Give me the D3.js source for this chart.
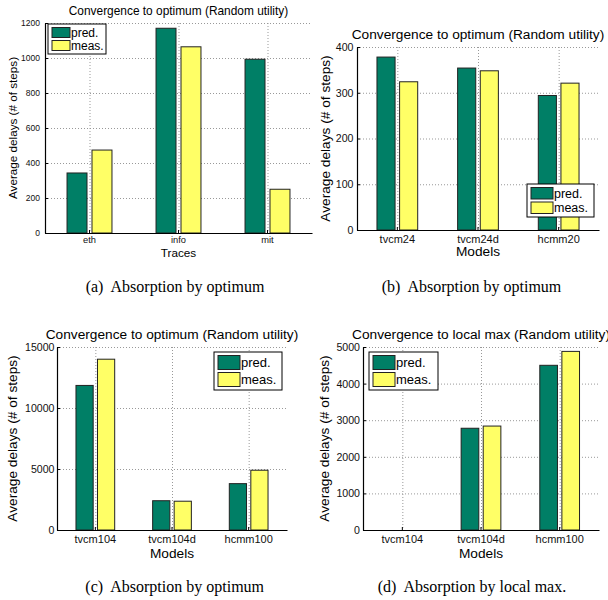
<!DOCTYPE html>
<html lang="en">
<head>
<meta charset="UTF-8">
<title>Convergence delays</title>
<script src="https://d3js.org/d3.v7.min.js"></script>
<style>
  body { margin: 0; background: #fff; }
  svg { display: block; font-family: "Liberation Sans", Arial, Helvetica, sans-serif; }
  .caption { font-family: "Liberation Serif", "Times New Roman", serif; }
</style>
</head>
<body>
<div id="chart"></div>
<script>
// series shared by all four panels
const series = ["pred.", "meas."];
const colors = ["#007f66", "#ffff66"];

// (a) traces
const catsA = ["eth", "info", "mit"];
const predA = [343, 1170, 993];
const measA = [474, 1064, 250];
const ticksA = [0, 200, 400, 600, 800, 1000, 1200];

// (b) small models
const catsB = ["tvcm24", "tvcm24d", "hcmm20"];
const predB = [378, 354, 294];
const measB = [324, 348, 321];
const ticksB = [0, 100, 200, 300, 400];

// (c) large models, optimum
const catsC = ["tvcm104", "tvcm104d", "hcmm100"];
const predC = [11850, 2400, 3800];
const measC = [14000, 2360, 4900];
const ticksC = [0, 5000, 10000, 15000];

// (d) large models, local max
const catsD = ["tvcm104", "tvcm104d", "hcmm100"];
const predD = [0, 2780, 4500];
const measD = [0, 2840, 4880];
const ticksD = [0, 1000, 2000, 3000, 4000, 5000];

const svg = d3.select("#chart").append("svg")
    .attr("width", 608)
    .attr("height", 600);
svg.append("rect").attr("width", 608).attr("height", 600).attr("fill", "#fff");

const panels = [
    { cats: catsA, pred: predA, meas: measA, ticks: ticksA,
      title: "Convergence to optimum (Random utility)", xlabel: "Traces",
      caption: "(a)\u00a0 Absorption by optimum",
      left: 45, right: 312, top: 23, bottom: 233,
      titleY: 14.5, titleFs: 11.9, labelFs: 11.7, yTickFs: 8.5, xTickFs: 9.3,
      yPad: 5, xPad: 3.5, yLabelX: 16.5, xLabelY: 256.5,
      capX: 175, capY: 291.5,
      legend: { x: 48, y: 24, w: 58, h: 30, sw: 18, fs: 12 } },
    { cats: catsB, pred: predB, meas: measB, ticks: ticksB,
      title: "Convergence to optimum (Random utility)", xlabel: "Models",
      caption: "(b)\u00a0 Absorption by optimum",
      left: 357, right: 599, top: 47, bottom: 230,
      titleY: 38.5, titleFs: 13.7, labelFs: 13.7, yTickFs: 10.6, xTickFs: 11,
      yPad: 3.5, xPad: 5, yLabelX: 330, xLabelY: 256,
      capX: 471.5, capY: 292,
      legend: { x: 527, y: 184, w: 67, h: 33, sw: 22, fs: 12.5 } },
    { cats: catsC, pred: predC, meas: measC, ticks: ticksC,
      title: "Convergence to optimum (Random utility)", xlabel: "Models",
      caption: "(c)\u00a0 Absorption by optimum",
      left: 57, right: 287, top: 347, bottom: 530,
      titleY: 338.5, titleFs: 13.7, labelFs: 13.7, yTickFs: 10.6, xTickFs: 11,
      yPad: 2.5, xPad: 5, yLabelX: 17.2, xLabelY: 557.5,
      capX: 174.7, capY: 591.5,
      legend: { x: 214, y: 352, w: 68, h: 38, sw: 22, fs: 13 } },
    { cats: catsD, pred: predD, meas: measD, ticks: ticksD,
      title: "Convergence to local max (Random utility)", xlabel: "Models",
      caption: "(d)\u00a0 Absorption by local max.",
      left: 363, right: 599, top: 347, bottom: 530,
      titleY: 338.5, titleFs: 13.7, labelFs: 13.7, yTickFs: 10.6, xTickFs: 11,
      yPad: 3, xPad: 5, yLabelX: 329, xLabelY: 557.5,
      capX: 472, capY: 591.5,
      legend: { x: 369, y: 352, w: 69, h: 38, sw: 22, fs: 13 } }
];

panels.forEach(drawPanel);

function drawPanel(p) {
    const g = svg.append("g");
    const x0 = d3.scaleBand().domain(p.cats).range([p.left, p.right]);
    const bw = x0.bandwidth();
    // two bars per group, matlab-style grouping
    const x1 = d3.scaleBand().domain(series)
        .range([bw * 0.2475, bw * 0.7525])
        .paddingInner(0.2);
    const y = d3.scaleLinear()
        .domain([0, d3.max(p.ticks)])
        .range([p.bottom, p.top]);
    const color = d3.scaleOrdinal().domain(series).range(colors);

    // dotted grid
    g.selectAll(".hgrid")
        .data(p.ticks.filter(t => t > 0))
        .join("line")
        .attr("x1", p.left).attr("x2", p.right)
        .attr("y1", d => y(d) + 0.5).attr("y2", d => y(d) + 0.5)
        .attr("stroke", "#999").attr("stroke-dasharray", "1,2");
    g.selectAll(".vgrid")
        .data(p.cats)
        .join("line")
        .attr("x1", d => x0(d) + bw / 2 + 0.5).attr("x2", d => x0(d) + bw / 2 + 0.5)
        .attr("y1", p.top).attr("y2", p.bottom)
        .attr("stroke", "#999").attr("stroke-dasharray", "1,2");

    // bars
    const rows = p.cats.map((c, i) => ({ cat: c, vals: [
        { key: series[0], value: p.pred[i] },
        { key: series[1], value: p.meas[i] }
    ] }));
    g.selectAll(".group")
        .data(rows)
        .join("g")
        .attr("transform", d => `translate(${x0(d.cat)},0)`)
        .selectAll("rect")
        .data(d => d.vals.filter(v => v.value > 0))
        .join("rect")
        .attr("x", d => x1(d.key))
        .attr("width", x1.bandwidth())
        .attr("y", d => y(d.value))
        .attr("height", d => p.bottom - y(d.value))
        .attr("fill", d => color(d.key))
        .attr("stroke", "#222")
        .attr("stroke-width", 1);

    // axes
    const yAxis = g.append("g")
        .attr("transform", `translate(${p.left},0)`)
        .call(d3.axisLeft(y).tickValues(p.ticks).tickFormat(d3.format("d"))
            .tickSizeInner(-3).tickSizeOuter(0).tickPadding(p.yPad));
    yAxis.selectAll("text").attr("font-size", p.yTickFs).attr("fill", "#111");
    const xAxis = g.append("g")
        .attr("transform", `translate(0,${p.bottom})`)
        .call(d3.axisBottom(x0).tickSizeInner(-3).tickSizeOuter(0).tickPadding(p.xPad));
    xAxis.selectAll("text").attr("font-size", p.xTickFs).attr("fill", "#111");
    g.selectAll(".domain").attr("stroke", "#000").attr("stroke-width", 1.2);

    // titles and labels
    const cx = (p.left + p.right) / 2;
    g.append("text")
        .attr("x", cx).attr("y", p.titleY)
        .attr("text-anchor", "middle")
        .attr("font-size", p.titleFs)
        .text(p.title);
    g.append("text")
        .attr("transform", `translate(${p.yLabelX},${(p.top + p.bottom) / 2}) rotate(-90)`)
        .attr("text-anchor", "middle")
        .attr("font-size", p.labelFs)
        .text("Average delays (# of steps)");
    g.append("text")
        .attr("x", cx).attr("y", p.xLabelY)
        .attr("text-anchor", "middle")
        .attr("font-size", p.labelFs)
        .text(p.xlabel);
    g.append("text")
        .attr("class", "caption")
        .attr("x", p.capX).attr("y", p.capY)
        .attr("text-anchor", "middle")
        .attr("font-size", 16)
        .text(p.caption);

    // legend box
    const L = p.legend;
    const lg = g.append("g").attr("transform", `translate(${L.x},${L.y})`);
    lg.append("rect")
        .attr("width", L.w).attr("height", L.h)
        .attr("fill", "#fff").attr("stroke", "#000").attr("stroke-width", 1);
    const rowH = (L.h - 4) / 2;
    series.forEach((s, i) => {
        const ry = 2 + i * rowH;
        lg.append("rect")
            .attr("x", 4).attr("y", ry + 1.5)
            .attr("width", L.sw).attr("height", rowH - 3)
            .attr("fill", color(s)).attr("stroke", "#222");
        lg.append("text")
            .attr("x", 5 + L.sw).attr("y", ry + rowH / 2)
            .attr("dy", "0.36em")
            .attr("font-size", L.fs)
            .text(s);
    });
}
</script>
</body>
</html>
